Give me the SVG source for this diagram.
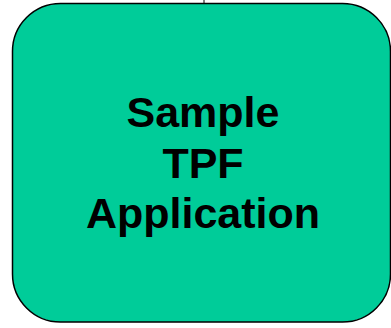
<svg xmlns="http://www.w3.org/2000/svg" width="391" height="328" viewBox="0 0 391 328">
<style>
.box{fill:#00CC99;stroke:#000;stroke-width:1.5}
.lbl{font-family:"Liberation Sans",Arial,sans-serif;font-weight:bold;font-size:43px;fill:#000;text-anchor:middle}
.conn{stroke:#000;stroke-width:1;fill:none}
</style>
<rect width="391" height="328" fill="#fff"/>
<g id="connectors">
<line class="conn" x1="204" y1="0" x2="204" y2="3"/>
</g>
<g id="sample-tpf-application">
<rect class="box" x="12.5" y="3.5" width="378" height="318.5" rx="48" ry="48"/>
<text class="lbl" x="203" y="127">Sample</text>
<text class="lbl" x="203" y="178">TPF</text>
<text class="lbl" x="203" y="228">Application</text>
</g>
</svg>
